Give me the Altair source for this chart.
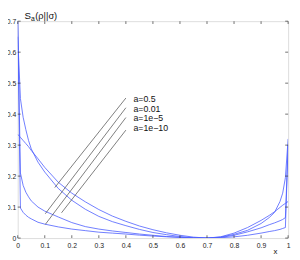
import altair as alt
import pandas as pd

# ---- data ----
x_vals = [0, 0.01, 0.02, 0.03, 0.04, 0.05, 0.075, 0.1, 0.15, 0.2, 0.25, 0.3, 0.35, 0.4, 0.45,
          0.5, 0.55, 0.6, 0.65, 0.7, 0.75, 0.8, 0.85, 0.9, 0.93, 0.95, 0.97, 0.98, 0.99, 1.0]

s_a05 = [0.335, 0.325, 0.315, 0.305, 0.295, 0.283, 0.256, 0.228, 0.18, 0.145, 0.117, 0.092,
         0.071, 0.054, 0.039, 0.027, 0.017, 0.009, 0.003, 0.0, 0.004, 0.016, 0.034, 0.057,
         0.073, 0.085, 0.099, 0.106, 0.112, 0.118]
s_a001 = [0.65, 0.45, 0.39, 0.35, 0.315, 0.288, 0.245, 0.213, 0.16, 0.122, 0.093, 0.07,
          0.053, 0.04, 0.028, 0.018, 0.011, 0.005, 0.001, 0.0, 0.003, 0.012, 0.025, 0.047,
          0.066, 0.083, 0.118, 0.145, 0.195, 0.32]
s_a1e5 = [0.70, 0.21, 0.17, 0.148, 0.133, 0.12, 0.1, 0.087, 0.068, 0.05, 0.037, 0.029,
          0.023, 0.018, 0.013, 0.009, 0.005, 0.0025, 0.0007, 0.0, 0.002, 0.009, 0.02, 0.033,
          0.043, 0.049, 0.056, 0.06, 0.066, 0.30]
s_a1e10 = [0.70, 0.097, 0.083, 0.074, 0.067, 0.062, 0.051, 0.045, 0.036, 0.029, 0.024, 0.019,
           0.016, 0.013, 0.0095, 0.0065, 0.0042, 0.0022, 0.0006, 0.0, 0.001, 0.004, 0.009, 0.016,
           0.021, 0.024, 0.028, 0.031, 0.034, 0.30]

series_names = ["a=0.5", "a=0.01", "a=1e\u22125", "a=1e\u221210"]

x_ticks = [0, 0.1, 0.2, 0.3, 0.4, 0.5, 0.6, 0.7, 0.8, 0.9, 1]
y_ticks = [0, 0.1, 0.2, 0.3, 0.4, 0.5, 0.6, 0.7]

# annotation (legend labels and leader lines), data units
label_x = [0.428, 0.428, 0.428, 0.428]
label_y = [0.449, 0.4175, 0.386, 0.3547]
lead_x1 = [0.40, 0.40, 0.40, 0.40]
lead_y1 = [0.452, 0.4206, 0.389, 0.3484]
lead_x2 = [0.137, 0.102, 0.102, 0.162]
lead_y2 = [0.163, 0.0785, 0.044, 0.0816]

title_x = [0.025, 0.049, 0.065]
title_y = [0.7078, 0.7016, 0.7078]
title_parts = ["S", "a", "(\u03c1||\u03c3)"]

xlabel_x = [0.953]
xlabel_y = [-0.046]

# ---- build tables ----
rows = []
for name, vals in zip(series_names, [s_a05, s_a001, s_a1e5, s_a1e10]):
    for xv, yv in zip(x_vals, vals):
        rows.append({"x": xv, "S": yv, "series": name})
curves_df = pd.DataFrame(rows)

FONT = "Liberation Sans"
x_scale = alt.Scale(domain=[0, 1], nice=False, zero=False)
y_scale = alt.Scale(domain=[0, 0.7], nice=False)
x_axis = alt.Axis(values=x_ticks, format="~g", ticks=False, domain=False, grid=False,
                  labelFontSize=7, labelPadding=3.5, labelFlush=False, labelOverlap=False,
                  labelColor="#222", labelFont=FONT)
y_axis = alt.Axis(values=y_ticks, format="~g", ticks=False, domain=False, grid=False,
                  labelFontSize=7, labelPadding=2, labelOverlap=False,
                  labelColor="#222", labelFont=FONT)


def X(field="x"):
    return alt.X(field, type="quantitative", scale=x_scale, axis=x_axis, title=None)


def Y(field="S"):
    return alt.Y(field, type="quantitative", scale=y_scale, axis=y_axis, title=None)


curves = alt.Chart(curves_df).mark_line(color="#4a5cff", strokeWidth=0.8, clip=True).encode(
    x=X(), y=Y(), detail="series:N"
)

# inward ticks on all four sides
bt = alt.Chart(pd.DataFrame({"x": x_ticks, "S": [0] * len(x_ticks)})).mark_tick(
    orient="vertical", size=3, thickness=1, color="#333", yOffset=-1.5).encode(x=X(), y=Y())
tt = alt.Chart(pd.DataFrame({"x": x_ticks, "S": [0.7] * len(x_ticks)})).mark_tick(
    orient="vertical", size=3, thickness=1, color="#333", yOffset=1.5).encode(x=X(), y=Y())
lt = alt.Chart(pd.DataFrame({"x": [0] * len(y_ticks), "S": y_ticks})).mark_tick(
    orient="horizontal", size=3, thickness=1, color="#333", xOffset=1.5).encode(x=X(), y=Y())
rt = alt.Chart(pd.DataFrame({"x": [1] * len(y_ticks), "S": y_ticks})).mark_tick(
    orient="horizontal", size=3, thickness=1, color="#333", xOffset=-1.5).encode(x=X(), y=Y())

lead_df = pd.DataFrame({"x": lead_x1, "S": lead_y1, "x2": lead_x2, "S2": lead_y2})
leaders = alt.Chart(lead_df).mark_rule(color="#444", strokeWidth=0.7).encode(
    x=X(), y=Y(), x2="x2:Q", y2="S2:Q")

lab_df = pd.DataFrame({"x": label_x, "S": label_y, "text": series_names})
labels = alt.Chart(lab_df).mark_text(align="left", baseline="middle", fontSize=9, font=FONT,
                                     color="#111").encode(x=X(), y=Y(), text="text:N")

t_df = pd.DataFrame({"x": title_x, "S": title_y, "text": title_parts, "fs": [10, 7, 9.5]})
title_main = alt.Chart(t_df).mark_text(align="left", baseline="alphabetic", font=FONT,
                                       color="#111").encode(
    x=X(), y=Y(), text="text:N", size=alt.Size("fs:Q", scale=None, legend=None))

xl_df = pd.DataFrame({"x": xlabel_x, "S": xlabel_y, "text": ["x"]})
xlabel = alt.Chart(xl_df).mark_text(align="center", baseline="middle", fontSize=8, font=FONT,
                                    color="#111").encode(x=X(), y=Y(), text="text:N")

chart = alt.layer(curves, bt, tt, lt, rt, leaders, labels, title_main, xlabel).properties(
    width=278, height=223,
    padding={"left": 10, "top": 10, "right": 4, "bottom": 19},
    autosize=alt.AutoSizeParams(type="none"),
).configure_view(stroke="#333", strokeWidth=1).configure(background="white")

chart.save("out.html", embed_options={"renderer": "svg", "actions": False})
